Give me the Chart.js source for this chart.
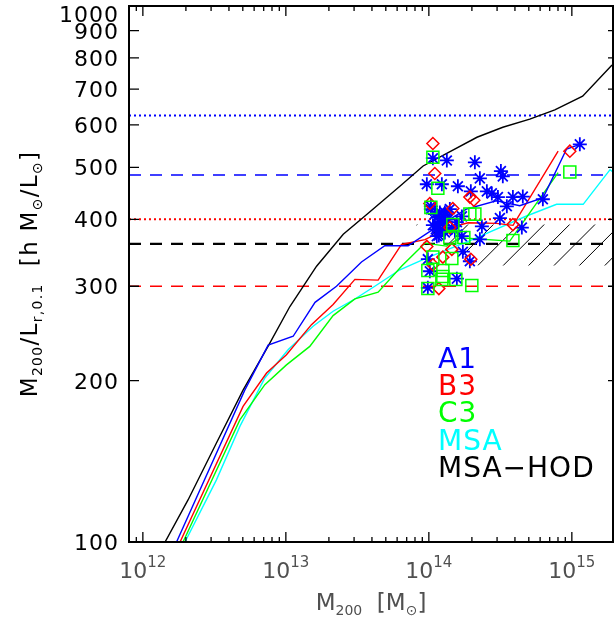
<!DOCTYPE html>
<html><head><meta charset="utf-8">
<script src="https://cdn.jsdelivr.net/npm/chart.js@4.4.0/dist/chart.umd.min.js"></script>
<style>html,body{margin:0;padding:0;background:#fff;}#wrap{width:614px;height:619px;}</style>
</head><body><div id="wrap"><canvas id="c" width="614" height="619"></canvas></div>
<script>
// ---- axes ----
const xMin = 8e11, xMax = 1.94e15;
const yMin = 100, yMax = 1000;
const xTickExponents = [12, 13, 14, 15];
const yTickValues = [100, 200, 300, 400, 500, 600, 700, 800, 900, 1000];
const yTickLabels = ['100', '200', '300', '400', '500', '600', '700', '800', '900', '1000'];

// ---- legend ----
const seriesNames = ['A1', 'B3', 'C3', 'MSA', 'MSA\u2212HOD'];
const seriesColors = ['#0000ff', '#ff0000', '#00ff00', '#00ffff', '#000000'];

// ---- model curves ----
const hodMass = [1.43e12, 2.07e12, 3.27e12, 5.02e12, 7.52e12, 1.067e13, 1.64e13, 2.52e13, 3.66e13, 6.27e13, 9.12e13, 2.17e14, 3.29e14, 5.08e14, 7.6e14, 1.19e15, 1.91e15];
const hodML = [100, 119.8, 153, 192, 232, 275, 327, 375, 408, 461, 503, 569, 594, 615, 640, 679, 776];

const a1Mass = [1.72e12, 5.16e12, 7.52e12, 1.125e13, 1.60e13, 2.26e13, 3.38e13, 4.92e13, 7.16e13, 1.07e14, 1.83e14, 2.97e14, 4.32e14, 6.30e14, 9.19e14, 1.14e15];
const a1ML = [100, 192, 233, 242, 280, 300, 333, 357, 357, 383, 418, 433, 424, 439, 541, 552];

const b3Mass = [1.82e12, 5.02e12, 7.33e12, 1.01e13, 1.51e13, 2.14e13, 3.04e13, 4.42e13, 6.44e13, 9.38e13, 1.40e14, 1.88e14, 2.97e14, 3.88e14, 8.02e14];
const b3ML = [100, 179, 206.7, 223.6, 254.4, 277.3, 309, 308, 359, 366.6, 385.8, 394, 393, 389.7, 536];

const c3Mass = [1.91e12, 4.77e12, 7.13e12, 1.01e13, 1.47e13, 2.14e13, 3.04e13, 4.42e13, 6.44e13, 9.38e13, 1.33e14, 1.65e14, 3.68e14, 8.02e14];
const c3ML = [100, 169, 196.6, 214, 231.7, 264.5, 284.2, 292.4, 327, 361, 356.5, 369.6, 364.2, 489];

const msaMass = [1.97e12, 3.27e12, 4.77e12, 7.13e12, 1.04e13, 1.55e13, 2.14e13, 3.04e13, 4.19e13, 6.27e13, 9.88e13, 1.94e14, 4.82e14, 7.82e14, 1.20e15, 1.85e15, 1.94e15];
const msaML = [100, 130.6, 164.3, 202.3, 228.6, 252.6, 269.5, 284, 300, 322, 339.5, 365, 405.7, 426.6, 426.6, 495, 490];

// ---- individual clusters ----
const a1PtMass = [1.067e14, 1.336e14, 2.098e14, 3.19e14, 3.29e14, 2.274e14, 0.968e14, 1.233e14, 1.596e14, 1.966e14, 2.545e14, 2.757e14, 3.04e14, 3.87e14, 4.54e14, 3.51e14, 6.27e14, 11.37e14, 3.14e14, 4.47e14, 1.702e14, 1.101e14, 1.194e14, 1.253e14, 1.570e14, 1.137e14, 1.033e14, 1.194e14, 1.402e14, 2.349e14, 2.274e14, 1.702e14, 1.729e14, 1.935e14, 1.570e14, 0.984e14, 1.016e14, 0.984e14, 1.294e14, 1.067e14, 1.358e14, 1.033e14, 1.156e14, 1.448e14, 1.294e14, 1.119e14, 1.520e14, 1.156e14, 1.213e14, 1.273e14, 1.175e14, 1.315e14];
const a1PtML = [520, 515, 511, 492, 481, 477, 465, 465, 461, 451, 451, 447, 440, 440, 441, 423, 436, 552, 402, 386, 405, 409, 395, 383, 395, 372, 418, 412, 418, 388, 367, 372, 348, 334, 310, 337, 320, 298, 378, 390, 400, 423, 404, 386, 412, 383, 381, 391, 383, 396.5, 373.3, 408.6];

const b3PtMass = [1.067e14, 1.101e14, 1.016e14, 1.471e14, 1.935e14, 2.064e14, 9.68e14, 3.87e14, 1.402e14, 0.968e14, 1.253e14, 1.448e14, 1.966e14, 1.067e14, 1.175e14];
const b3PtML = [554, 487, 428, 419, 440, 434, 536, 391, 386, 356, 340, 351.5, 337, 329, 297];

const c3PtMass = [1.067e14, 1.156e14, 1.033e14, 1.935e14, 2.098e14, 1.471e14, 1.402e14, 1.757e14, 3.87e14, 9.68e14, 1.067e14, 1.448e14, 0.984e14, 1.253e14, 1.253e14, 1.233e14, 1.545e14, 1.998e14, 0.984e14];
const c3PtML = [522, 457, 421, 409, 409, 391, 369, 370, 365, 490, 340, 338, 321, 321, 313, 309, 309, 301, 297];

// ---- horizontal reference levels ----
const refValues = [625, 484, 400, 360, 300];
const refColors = ['#0000ff', '#0000ff', '#ff0000', '#000000', '#ff0000'];
const refKinds = ['dotted', 'dashed', 'dotted', 'dashed', 'dashed'];

// ---- hatched region ----
const hatchMass = [8e13, 2.2e14, 4e15, 4e15];
const hatchML = [391, 328, 328, 391];

const FONT = '"DejaVu Sans", sans-serif';
function zip(xs, ys) { return xs.map((x, i) => ({x: x, y: ys[i]})); }

const datasets = [];
datasets.push({type: 'scatter', data: zip(c3PtMass, c3PtML), pointStyle: 'rect', pointRadius: 8.5, borderColor: seriesColors[2], backgroundColor: 'rgba(0,0,0,0)', borderWidth: 1.5, order: 1});
datasets.push({type: 'scatter', data: zip(b3PtMass, b3PtML), pointStyle: 'rectRot', pointRadius: 6, borderColor: seriesColors[1], backgroundColor: 'rgba(0,0,0,0)', borderWidth: 1.5, order: 2});
datasets.push({type: 'scatter', data: zip(a1PtMass, a1PtML), pointStyle: 'star', pointRadius: 7, borderColor: seriesColors[0], backgroundColor: 'rgba(0,0,0,0)', borderWidth: 1.8, order: 3});
const curves = [[a1Mass, a1ML, 0], [b3Mass, b3ML, 1], [c3Mass, c3ML, 2], [msaMass, msaML, 3], [hodMass, hodML, 4]];
curves.forEach((c, i) => {
  datasets.push({type: 'line', data: zip(c[0], c[1]), borderColor: seriesColors[c[2]], borderWidth: 1.4, pointRadius: 0, tension: 0, fill: false, order: 5 + i});
});
refValues.forEach((v, i) => {
  const dotted = refKinds[i] === 'dotted';
  datasets.push({type: 'line', data: [{x: xMin, y: v}, {x: xMax, y: v}], borderColor: refColors[i],
    borderWidth: dotted ? 2 : (refColors[i] === '#000000' ? 2.2 : 1.5),
    borderDash: dotted ? [2, 3] : [12, 9], pointRadius: 0, fill: false, order: 20 + i});
});

function richWidth(ctx, parts) {
  let w = 0;
  for (const p of parts) { ctx.font = p.size + 'px ' + FONT; w += ctx.measureText(p.t).width; }
  return w;
}
function drawRich(ctx, parts, x, y) {
  let cx = x;
  for (const p of parts) {
    ctx.font = p.size + 'px ' + FONT;
    ctx.fillText(p.t, cx, y + (p.dy || 0));
    cx += ctx.measureText(p.t).width;
  }
}

const decor = {
  id: 'decor',
  beforeDatasetsDraw(chart) {
    const ctx = chart.ctx, xs = chart.scales.x, ys = chart.scales.y, a = chart.chartArea;
    const pts = hatchMass.map((m, i) => [xs.getPixelForValue(m), ys.getPixelForValue(hatchML[i])]);
    ctx.save();
    ctx.beginPath(); ctx.rect(a.left, a.top, a.right - a.left, a.bottom - a.top); ctx.clip();
    ctx.beginPath();
    pts.forEach((p, i) => i ? ctx.lineTo(p[0], p[1]) : ctx.moveTo(p[0], p[1]));
    ctx.closePath(); ctx.clip();
    ctx.strokeStyle = '#000'; ctx.lineWidth = 1;
    const bx = pts[1][0], by = pts[1][1], step = 25.4;
    ctx.beginPath();
    for (let k = -30; k <= 30; k++) {
      const x0 = bx + k * step;
      ctx.moveTo(x0 - 300, by + 300); ctx.lineTo(x0 + 300, by - 300);
    }
    ctx.stroke();
    ctx.restore();
  },
  afterDraw(chart) {
    const ctx = chart.ctx, xs = chart.scales.x, ys = chart.scales.y, a = chart.chartArea;
    ctx.save();
    // frame
    ctx.strokeStyle = '#000'; ctx.lineWidth = 2;
    ctx.strokeRect(a.left, a.top, a.right - a.left, a.bottom - a.top);
    // x ticks
    ctx.lineWidth = 1.3;
    ctx.beginPath();
    for (let e = 11; e <= 15; e++) {
      for (let m = 1; m <= 9; m++) {
        const v = m * Math.pow(10, e);
        if (v < xMin || v > xMax) continue;
        const px = xs.getPixelForValue(v);
        const len = m === 1 ? 10 : 5;
        ctx.moveTo(px, a.bottom); ctx.lineTo(px, a.bottom - len);
        ctx.moveTo(px, a.top); ctx.lineTo(px, a.top + len);
      }
    }
    // y ticks
    yTickValues.forEach(v => {
      const py = ys.getPixelForValue(v);
      ctx.moveTo(a.left, py); ctx.lineTo(a.left + 10, py);
      ctx.moveTo(a.right, py); ctx.lineTo(a.right - 5, py);
    });
    ctx.stroke();
    // y labels
    ctx.fillStyle = '#000'; ctx.textAlign = 'right'; ctx.textBaseline = 'alphabetic';
    ctx.font = '22px ' + FONT;
    ctx.letterSpacing = '1px';
    yTickValues.forEach((v, i) => {
      const py = ys.getPixelForValue(v);
      ctx.fillText(yTickLabels[i], a.left - 10, Math.max(py + 8, 22));
    });
    ctx.letterSpacing = '0px';
    // x labels
    ctx.textAlign = 'left'; ctx.fillStyle = '#505050';
    xTickExponents.forEach(e => {
      const px = xs.getPixelForValue(Math.pow(10, e));
      const parts = [{t: '10', size: 22}, {t: String(e), size: 15, dy: -11}];
      const w = richWidth(ctx, parts);
      drawRich(ctx, parts, px - w / 2, 578);
    });
    // x title
    const xt = [{t: 'M', size: 23}, {t: '200', size: 14, dy: 5}, {t: '  [M', size: 23}, {t: '\u2299', size: 14, dy: 5}, {t: ']', size: 23}];
    const xw = richWidth(ctx, xt);
    drawRich(ctx, xt, (a.left + a.right) / 2 - xw / 2, 610);
    // y title
    ctx.fillStyle = '#000';
    ctx.letterSpacing = '1.3px';
    const yt = [{t: 'M', size: 23}, {t: '200', size: 14, dy: 5}, {t: '/L', size: 23}, {t: 'r,0.1', size: 14, dy: 5},
      {t: '  [h M', size: 23}, {t: '\u2299', size: 14, dy: 5}, {t: '/L', size: 23}, {t: '\u2299', size: 14, dy: 5}, {t: ']', size: 23}];
    const yw = richWidth(ctx, yt);
    ctx.save();
    ctx.translate(37, (a.top + a.bottom) / 2);
    ctx.rotate(-Math.PI / 2);
    drawRich(ctx, yt, -yw / 2, 0);
    ctx.restore();
    // legend text
    ctx.letterSpacing = '1px';
    ctx.font = '28px ' + FONT;
    seriesNames.forEach((n, i) => {
      ctx.fillStyle = seriesColors[i];
      ctx.fillText(n, 438, 368 + i * 27.2);
    });
    ctx.restore();
  }
};

new Chart(document.getElementById('c'), {
  type: 'scatter',
  data: {datasets: datasets},
  options: {
    responsive: false, animation: false, devicePixelRatio: 1,
    layout: {autoPadding: false, padding: {left: 129, right: 1, top: 6, bottom: 77}},
    plugins: {legend: {display: false}, tooltip: {enabled: false}},
    scales: {
      x: {type: 'logarithmic', min: xMin, max: xMax, display: false},
      y: {type: 'logarithmic', min: yMin, max: yMax, display: false}
    }
  },
  plugins: [decor]
});
</script></body></html>
